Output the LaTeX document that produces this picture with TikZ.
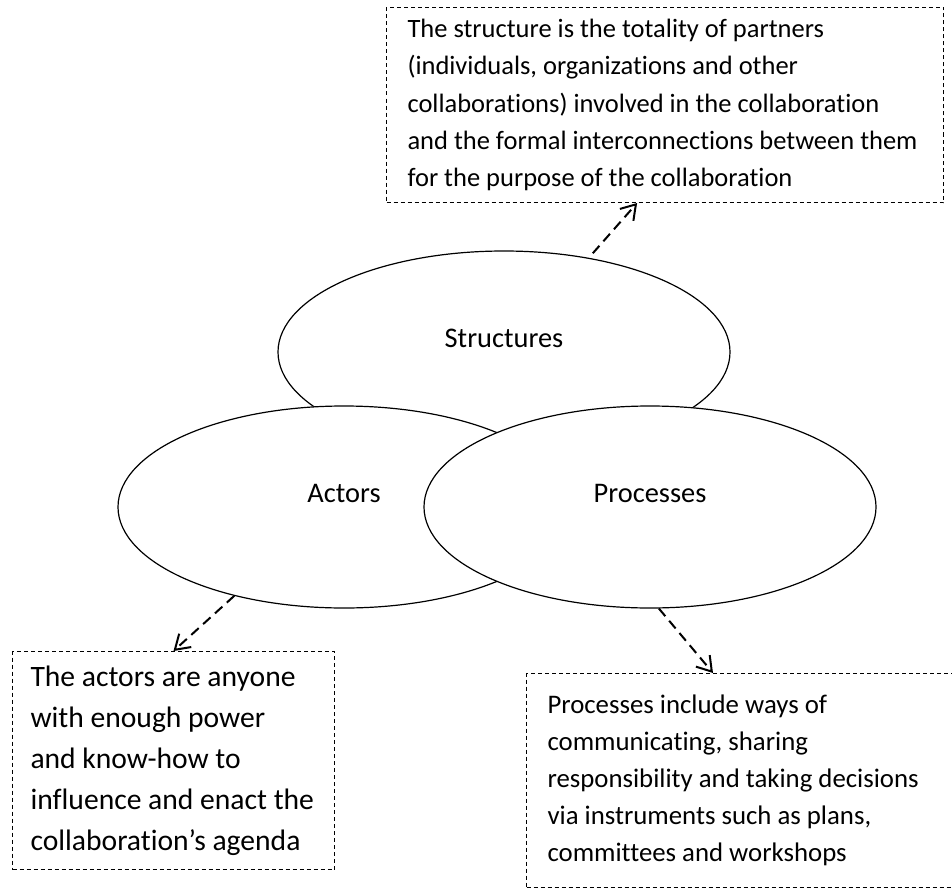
\documentclass[tikz,border=0pt]{standalone}
\usepackage{fontspec}
\setmainfont{Carlito}[Ligatures=NoCommon]
\usetikzlibrary{arrows.meta, shapes.geometric, calc}

\begin{document}
\begin{tikzpicture}[x=0.5pt,y=-0.5pt,>={Straight Barb[length=7pt,width=9pt]},
    blob/.style={ellipse,draw,fill=white,line width=0.6pt,minimum width=226pt,
      minimum height=101pt,inner sep=0pt},
    tag/.style={font=\fontsize{14.2}{17}\selectfont,yshift=7pt},
    note/.style={draw,line width=0.5pt,dash pattern=on 2pt off 1.5pt,anchor=north west,
      align=flush left,inner xsep=10.5pt,inner ysep=0pt},
    link/.style={->,line width=1pt,dash pattern=on 5pt off 3pt}]
  \useasboundingbox (0,0) rectangle (952,888);
  % the three parts of a collaboration
  \node[blob, label={[tag]center:Structures}] (str) at (504,352) {};
  \node[blob, label={[tag]center:Actors}]     (act) at (344,507) {};
  \node[blob, label={[tag]center:Processes}]  (pro) at (650,507) {};
  % what each part means
  \node[note, text width=257.5pt, minimum height=97.5pt,
    font=\fontsize{13.25}{18.6}\selectfont] (strnote) at (386,7)
    {The structure is the totality of partners\\
     (individuals, organizations and other\\
     collaborations) involved in the collaboration\\
     and the formal interconnections between them\\
     for the purpose of the collaboration};
  \node[note, text width=143pt, minimum height=109pt, inner xsep=9pt,
    font=\fontsize{14.8}{20.5}\selectfont] (actnote) at (12,651)
    {The actors are anyone\\
     with enough power\\
     and know-how to\\
     influence and enact the\\
     collaboration’s agenda};
  \node[note, text width=260pt, minimum height=107pt,
    font=\fontsize{13.4}{18.5}\selectfont] (pronote) at (526,673)
    {Processes include ways of\\
     communicating, sharing\\
     responsibility and taking decisions\\
     via instruments such as plans,\\
     committees and workshops};
  \draw[link, shorten <=3pt] (str.48) -- ($(strnote.south west)!0.45!(strnote.south east)$);
  \draw[link] (act.219) -- (actnote.north);
  \draw[link] (pro.275) -- ($(pronote.north west)+(187,0)$);
\end{tikzpicture}
\end{document}
